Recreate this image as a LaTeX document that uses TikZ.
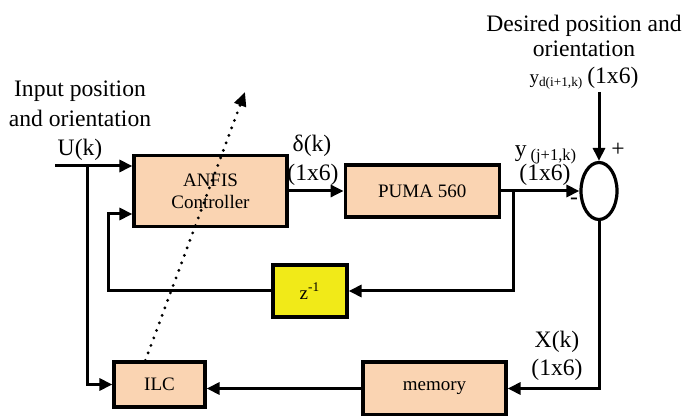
\documentclass[tikz,border=0pt]{standalone}
\usepackage{fontspec}
\setmainfont{Liberation Serif}
\usepackage{tikz}
\usetikzlibrary{arrows.meta, positioning, shapes.geometric}
\definecolor{blkpeach}{RGB}{250,212,178}
\definecolor{blkyellow}{RGB}{241,234,24}

\begin{document}
\begin{tikzpicture}[
  x=0.5pt, y=-0.5pt,
  blkbox/.style={rectangle, draw=black, fill=blkpeach, line width=1.6pt, align=center,
               inner sep=0pt, font=\fontsize{9.5}{11}\selectfont},
  blkdelay/.style={blkbox, fill=blkyellow},
  sumnode/.style={ellipse, draw=black, fill=white, line width=1.6pt, inner sep=0pt,
               minimum width=18pt, minimum height=28.5pt},
  sig/.style={font=\fontsize{11.8}{14.5}\selectfont, align=center, inner sep=0pt},
  arrow/.style={-{Triangle[length=6.5pt, width=6pt]}, line width=1.5pt, black},
  tuning/.style={-{Triangle[length=7pt, width=6pt]}, line width=1.6pt, line cap=round,
               dash pattern=on 0pt off 4pt}
]
\useasboundingbox (0,0) rectangle (684,416);
\node[blkbox, minimum width=76.5pt, minimum height=35.5pt] (anfis) at (210.5,191) {ANFIS\\Controller};
\node[blkbox, minimum width=77pt, minimum height=26pt, right=27.5pt of anfis] (puma) {PUMA 560};
\node[sumnode] (sum) at (599,191) {};
\node[blkdelay, minimum width=37pt, minimum height=26pt] (zinv) at (310,291) {z\textsuperscript{-1}};
\node[blkbox, minimum width=45.5pt, minimum height=22.5pt] (ilc) at (159.5,384.5) {ILC};
\node[blkbox, minimum width=71.5pt, minimum height=26.5pt] (memory) at (434.5,388.5) {memory};

% signal labels
\node[sig] (uin-lbl) at (80,121) {Input position\\[0.5pt]and orientation\\U(k)};
\node[sig] (yd-lbl) at (584,35.5) {Desired position and\\[-2pt]orientation};
\node[sig] (yd-dim) at (584,78) {{\fontsize{9.5}{11}\selectfont y\textsubscript{d(i+1,k)}}\,(1x6)};
\node[sig] (delta-lbl) at (312,146) {δ(k)};
\node[sig] (delta-dim) at (313,175) {(1x6)};
\node[sig] (y-lbl) at (546,155) {y\,\textsubscript{(j+1,k)}};
\node[sig] (y-dim) at (545,175) {(1x6)};
\node[sig] (plus) at (618,150) {+};
\node[sig] (minus) at (574,201) {-};
\node[sig] (x-lbl) at (557,342) {X(k)};
\node[sig] (x-dim) at (557,370) {(1x6)};

\coordinate (uin) at (55,166);
\coordinate (ubr) at (87,166);
\coordinate (ybr) at (513,191);
\coordinate (ydin) at (599,92);
\coordinate (loop) at (108,214);
\coordinate (tunetip) at (245,92);

\draw[arrow] (uin) -- (anfis.west |- uin);
\draw[arrow] (ubr) |- (ilc.west);
\draw[arrow] (anfis.east) -- (puma.west);
\draw[arrow] (puma.east) -- (sum.west);
\draw[arrow] (ydin) -- (sum.north);
\draw[arrow] (sum.south) |- (memory.east);
\draw[arrow] (memory.west) -- (ilc.east |- memory.west);
\draw[arrow] (ybr) |- (zinv.east);
\draw[arrow] (zinv.west) -| (loop) -- (anfis.west |- loop);
\draw[tuning] ([xshift=16.5pt]ilc.north west) -- (tunetip);
\end{tikzpicture}
\end{document}
